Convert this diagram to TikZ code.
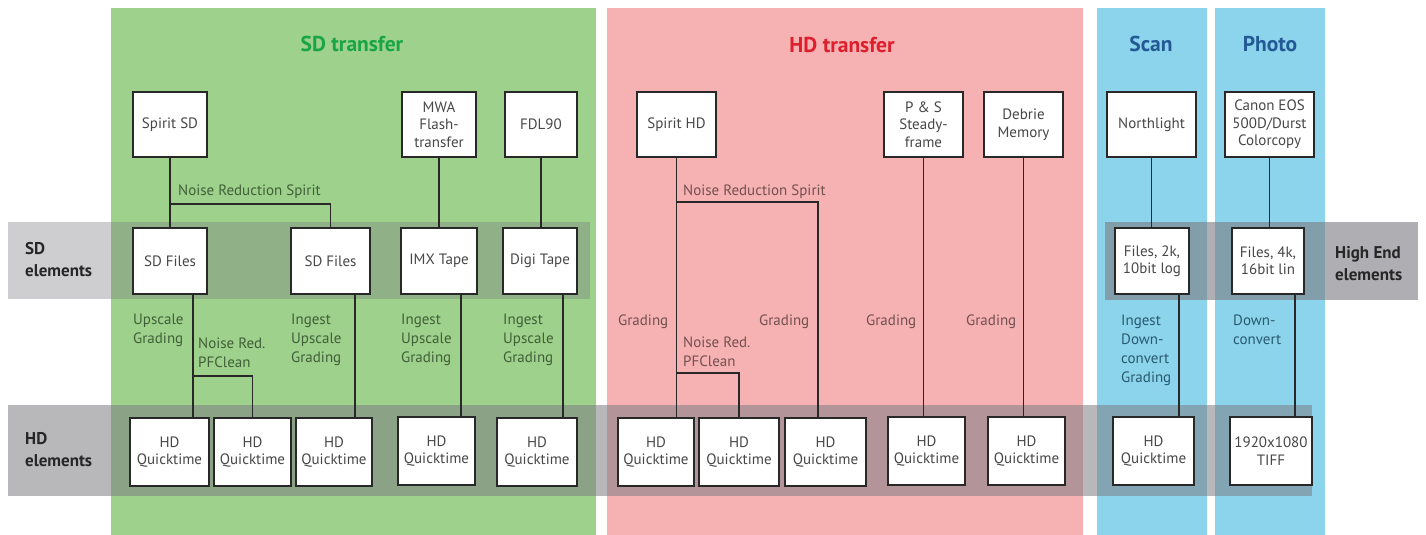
\documentclass[tikz,border=0pt]{standalone}
\usepackage{fontspec}
\setmainfont{PT Sans}
\definecolor{sdgreen}{RGB}{157,209,140}
\definecolor{hdpink}{RGB}{246,178,178}
\definecolor{scblue}{RGB}{140,212,236}
\definecolor{ttlgreen}{RGB}{25,165,70}
\definecolor{ttlred}{RGB}{222,30,45}
\definecolor{ttlblue}{RGB}{35,90,150}
\definecolor{bandgray}{RGB}{125,125,132}
\definecolor{glbl}{RGB}{65,95,55}
\definecolor{plbl}{RGB}{115,80,80}
\definecolor{blbl}{RGB}{40,90,110}
\definecolor{inkgray}{RGB}{40,40,40}
\newcommand\bxfont{\fontsize{15}{17.5}\selectfont}
\newcommand\lbfont{\fontsize{15}{19}\selectfont}
\newcommand\ttlfont{\fontsize{21.5}{24}\selectfont\bfseries}
\newcommand\sdlfont{\fontsize{17}{22}\selectfont\bfseries}
\begin{document}
\begin{tikzpicture}[x=1pt,y=-1pt,
  band/.style={fill=bandgray, fill opacity=#1, draw=none},
  box/.style={draw=inkgray, fill=white, line width=1.9pt, align=center, inner sep=0pt, text=black!72, font=\bxfont},
  lbl/.style={anchor=north west, align=left, inner sep=0pt, font=\lbfont, text=#1},
  ttl/.style={font=\ttlfont, text=#1, inner sep=0pt},
  side/.style={anchor=north west, align=left, inner sep=0pt, font=\sdlfont, text=black!85},
  conn/.style={draw=inkgray, line width=1.8pt}]
\useasboundingbox (0,0) rectangle (1426,535);
% panels
\fill[sdgreen] (111,8) rectangle (596,535);
\fill[hdpink] (607,8) rectangle (1083,535);
\fill[scblue] (1097,8) rectangle (1207,535);
\fill[scblue] (1215,8) rectangle (1325,535);
% bands
\fill[band=0.38] (8,222) rectangle (590,299);
\fill[band=0.55] (8,405) rectangle (1312,496);
\fill[band=0.62] (1105,222) rectangle (1418,300);
% titles
\node[ttl=ttlgreen] (tsd) at (352,44) {SD transfer};
\node[ttl=ttlred] (thd) at (842,45) {HD transfer};
\node[ttl=ttlblue] (tsc) at (1151,44) {Scan};
\node[ttl=ttlblue] (tph) at (1270,44) {Photo};
% side labels
\node[side] (lsd) at (25,242) {SD\\elements};
\node[side] (lhd) at (25,432) {HD\\elements};
\node[side] (lhe) at (1335,246) {High End\\elements};
% top row
\node[box, minimum width=74pt, minimum height=65pt] (ssd) at (170,124.5) {Spirit SD};
\node[box, minimum width=74pt, minimum height=65pt] (mwa) at (439,124.5) {MWA\\Flash-\\transfer};
\node[box, minimum width=72pt, minimum height=65pt] (fdl) at (541,124.5) {FDL90};
\node[box, minimum width=79pt, minimum height=65pt] (shd) at (676.5,124.5) {Spirit HD};
\node[box, minimum width=79pt, minimum height=65pt] (ps) at (923.5,124.5) {P \& S\\Steady-\\frame};
\node[box, minimum width=79pt, minimum height=65pt] (deb) at (1023.5,124.5) {Debrie\\Memory};
\node[box, minimum width=89pt, minimum height=65pt] (nl) at (1151.5,124.5) {Northlight};
\node[box, minimum width=89pt, minimum height=65pt] (can) at (1269.5,124.5) {Canon EOS\\500D/Durst\\Colorcopy};
% SD row
\node[box, minimum width=74pt, minimum height=66pt] (sdf1) at (170,261) {SD Files};
\node[box, minimum width=79pt, minimum height=66pt] (sdf2) at (330.5,261) {SD Files};
\node[box, minimum width=76pt, minimum height=66pt] (imx) at (439,261) {IMX Tape};
\node[box, minimum width=74pt, minimum height=66pt] (digi) at (540,261) {Digi Tape};
\node[box, minimum width=74pt, minimum height=66pt] (f2k) at (1152,261) {Files, 2k,\\10bit log};
\node[box, minimum width=72pt, minimum height=66pt] (f4k) at (1268,261) {Files, 4k,\\16bit lin};
% HD row
\node[box, minimum width=79pt, minimum height=68pt] (q1) at (169.5,452) {HD\\Quicktime};
\node[box, minimum width=77pt, minimum height=68pt] (q2) at (252.5,452) {HD\\Quicktime};
\node[box, minimum width=76pt, minimum height=68pt] (q3) at (334,452) {HD\\Quicktime};
\node[box, minimum width=77pt, minimum height=68pt] (q4) at (436.5,451) {HD\\Quicktime};
\node[box, minimum width=80pt, minimum height=68pt] (q5) at (537,452) {HD\\Quicktime};
\node[box, minimum width=76pt, minimum height=68pt] (p1) at (656,452) {HD\\Quicktime};
\node[box, minimum width=80pt, minimum height=68pt] (p2) at (739,452) {HD\\Quicktime};
\node[box, minimum width=81pt, minimum height=68pt] (p3) at (825.5,452) {HD\\Quicktime};
\node[box, minimum width=77pt, minimum height=68pt] (p4) at (926.5,451) {HD\\Quicktime};
\node[box, minimum width=77pt, minimum height=68pt] (p5) at (1026.5,451) {HD\\Quicktime};
\node[box, minimum width=81pt, minimum height=68pt] (b1) at (1153.5,451) {HD\\Quicktime};
\node[box, minimum width=82pt, minimum height=68pt] (b2) at (1271,451) {1920x1080\\TIFF};
% connector columns and junctions
\coordinate (xA) at (193,0);
\coordinate (xB) at (355,0);
\coordinate (xC) at (461,0);
\coordinate (xD) at (563,0);
\coordinate (xE) at (818,0);
\coordinate (xF) at (1179,0);
\coordinate (xG) at (1295,0);
\coordinate (j1) at (170,204);
\coordinate (j2) at (193,376);
\coordinate (j3) at (676.5,202);
\coordinate (j4) at (676.5,373);
% connectors
\draw[conn] (ssd.south) -- (sdf1.north);
\draw[conn] (j1) -| (sdf2.north);
\draw[conn] (mwa.south) -- (imx.north);
\draw[conn] (fdl.south) -- (fdl.south |- digi.north);
\draw[conn] (sdf1.south -| xA) -- (q1.north -| xA);
\draw[conn] (j2) -| (q2.north);
\draw[conn] (sdf2.south -| xB) -- (q3.north -| xB);
\draw[conn] (imx.south -| xC) -- (q4.north -| xC);
\draw[conn] (digi.south -| xD) -- (q5.north -| xD);
\draw[conn] (shd.south) -- (shd.south |- p1.north);
\draw[conn] (j3) -| (p3.north -| xE);
\draw[conn] (j4) -| (p2.north);
\draw[conn] (ps.south) -- (ps.south |- p4.north);
\draw[conn] (deb.south) -- (deb.south |- p5.north);
\draw[conn] (nl.south) -- (nl.south |- f2k.north);
\draw[conn] (can.south) -- (can.south |- f4k.north);
\draw[conn] (f2k.south -| xF) -- (b1.north -| xF);
\draw[conn] (f4k.south -| xG) -- (b2.north -| xG);
% labels
\node[lbl=glbl] (l1) at (178,185) {Noise Reduction Spirit};
\node[lbl=glbl] (l2) at (133,314) {Upscale\\Grading};
\node[lbl=glbl] (l3) at (198,338) {Noise Red.\\PFClean};
\node[lbl=glbl] (l4) at (291,314) {Ingest\\Upscale\\Grading};
\node[lbl=glbl] (l5) at (401,314) {Ingest\\Upscale\\Grading};
\node[lbl=glbl] (l6) at (503,314) {Ingest\\Upscale\\Grading};
\node[lbl=plbl] (l7) at (683,185) {Noise Reduction Spirit};
\node[lbl=plbl] (l8) at (618,315) {Grading};
\node[lbl=plbl] (l9) at (683,337) {Noise Red.\\PFClean};
\node[lbl=plbl] (l10) at (759,315) {Grading};
\node[lbl=plbl] (l11) at (866,315) {Grading};
\node[lbl=plbl] (l12) at (966,315) {Grading};
\node[lbl=blbl] (l13) at (1121,315) {Ingest\\Down-\\convert\\Grading};
\node[lbl=blbl] (l14) at (1233,315) {Down-\\convert};
\end{tikzpicture}
\end{document}
